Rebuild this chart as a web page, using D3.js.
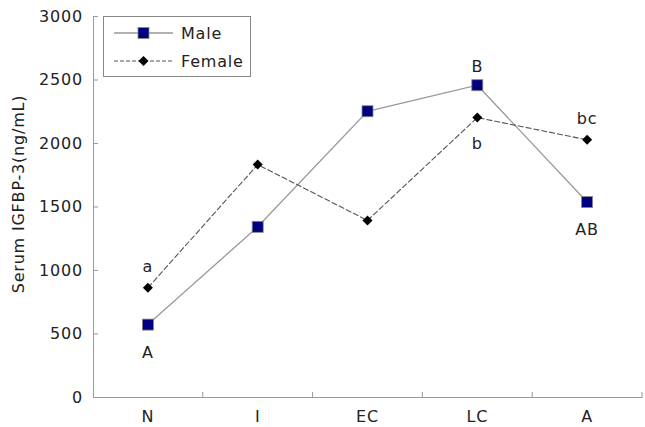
<!DOCTYPE html>
<html>
<head>
<meta charset="utf-8">
<script src="https://cdn.jsdelivr.net/npm/d3@7"></script>
<style>
body { margin: 0; background: #fff; }
text { font-family: "DejaVu Sans", sans-serif; fill: #222; letter-spacing: 0.8px; }
</style>
</head>
<body>
<div id="chart"></div>
<script>

var categories = ["N", "I", "EC", "LC", "A"];
var maleValues = [570, 1340, 2250, 2455, 1535];
var femaleValues = [860, 1830, 1390, 2200, 2025];
var maleLetters = ["A", "", "", "B", "AB"];
var femaleLetters = ["a", "", "", "b", "bc"];
var yTicks = [0, 500, 1000, 1500, 2000, 2500, 3000];

var width = 645;
var height = 427;
var margin = {top: 16, right: 3, bottom: 30, left: 93};

var svg = d3.select("#chart")
  .append("svg")
  .attr("width", width)
  .attr("height", height);

var xScale = d3.scaleBand()
  .domain(categories)
  .range([margin.left, width - margin.right]);

var yScale = d3.scaleLinear()
  .domain([0, 3000])
  .range([height - margin.bottom, margin.top]);

var cx = function(d, i) { return xScale(categories[i]) + xScale.bandwidth() / 2; };

// y axis
var yAxis = svg.append("g")
  .attr("transform", "translate(" + margin.left + ",0)")
  .call(d3.axisLeft(yScale).tickValues(yTicks).tickFormat(d3.format("d")).tickSize(-5).tickPadding(10));
yAxis.selectAll("text").style("font-size", "16px").style("fill", "#222");

// x axis
var xAxis = svg.append("g")
  .attr("transform", "translate(0," + (height - margin.bottom) + ")")
  .call(d3.axisBottom(xScale).tickSize(0).tickPadding(14));
xAxis.selectAll("text").style("font-size", "16px").style("fill", "#222");

// x ticks at band boundaries
xAxis.selectAll(".bnd")
  .data(categories)
  .enter()
  .append("line")
  .attr("x1", function(d) { return xScale(d) + xScale.bandwidth(); })
  .attr("x2", function(d) { return xScale(d) + xScale.bandwidth(); })
  .attr("y1", 0)
  .attr("y2", -5);

svg.selectAll(".domain, .tick line, line").attr("stroke", "#999");

svg.append("text")
  .attr("transform", "translate(24,194) rotate(-90)")
  .attr("text-anchor", "middle")
  .style("font-size", "16px")
  .text("Serum IGFBP-3(ng/mL)");

var line = d3.line()
  .x(cx)
  .y(function(d) { return yScale(d); });

svg.append("path")
  .datum(maleValues)
  .attr("fill", "none")
  .attr("stroke", "#999")
  .attr("stroke-width", 1.3)
  .attr("d", line);

svg.append("path")
  .datum(femaleValues)
  .attr("fill", "none")
  .attr("stroke", "#555")
  .attr("stroke-width", 1.1)
  .attr("stroke-dasharray", "6,2")
  .attr("d", line);

svg.selectAll(".male")
  .data(maleValues)
  .enter()
  .append("rect")
  .attr("x", function(d, i) { return cx(d, i) - 5.5; })
  .attr("y", function(d) { return yScale(d) - 5.5; })
  .attr("width", 11)
  .attr("height", 11)
  .attr("fill", "#000080")
  .attr("stroke", "#888")
  .attr("stroke-width", 0.8);

svg.selectAll(".female")
  .data(femaleValues)
  .enter()
  .append("path")
  .attr("transform", function(d, i) { return "translate(" + cx(d, i) + "," + yScale(d) + ")"; })
  .attr("d", "M0,-5L5,0L0,5L-5,0Z")
  .attr("fill", "#000");

// significance letters
var maleAbove = [false, false, false, true, false];
var femaleAbove = [true, false, false, false, true];

svg.selectAll(".mlab")
  .data(maleValues)
  .enter()
  .append("text")
  .attr("x", cx)
  .attr("y", function(d, i) { return yScale(d) + (maleAbove[i] ? -13 : 33); })
  .attr("text-anchor", "middle")
  .style("font-size", "16px")
  .text(function(d, i) { return maleLetters[i]; });

svg.selectAll(".flab")
  .data(femaleValues)
  .enter()
  .append("text")
  .attr("x", cx)
  .attr("y", function(d, i) { return yScale(d) + (femaleAbove[i] ? -16 : 31); })
  .attr("text-anchor", "middle")
  .style("font-size", "16px")
  .text(function(d, i) { return femaleLetters[i]; });

// legend
var legend = svg.append("g");
legend.append("rect")
  .attr("x", 103.5).attr("y", 16.5)
  .attr("width", 147).attr("height", 60)
  .attr("fill", "#fff").attr("stroke", "#888");

legend.append("line")
  .attr("x1", 114).attr("x2", 173).attr("y1", 33).attr("y2", 33)
  .attr("stroke", "#999").attr("stroke-width", 1.3);
legend.append("rect")
  .attr("x", 138).attr("y", 27.5).attr("width", 11).attr("height", 11)
  .attr("fill", "#000080").attr("stroke", "#888").attr("stroke-width", 0.8);
legend.append("text")
  .attr("x", 181).attr("y", 39).style("font-size", "16px").text("Male");

legend.append("line")
  .attr("x1", 114).attr("x2", 173).attr("y1", 61).attr("y2", 61)
  .attr("stroke", "#555").attr("stroke-width", 1.1).attr("stroke-dasharray", "4,2");
legend.append("path")
  .attr("transform", "translate(143.5,61)")
  .attr("d", "M0,-5L5,0L0,5L-5,0Z").attr("fill", "#000");
legend.append("text")
  .attr("x", 181).attr("y", 67).style("font-size", "16px").text("Female");

</script>
</body>
</html>
